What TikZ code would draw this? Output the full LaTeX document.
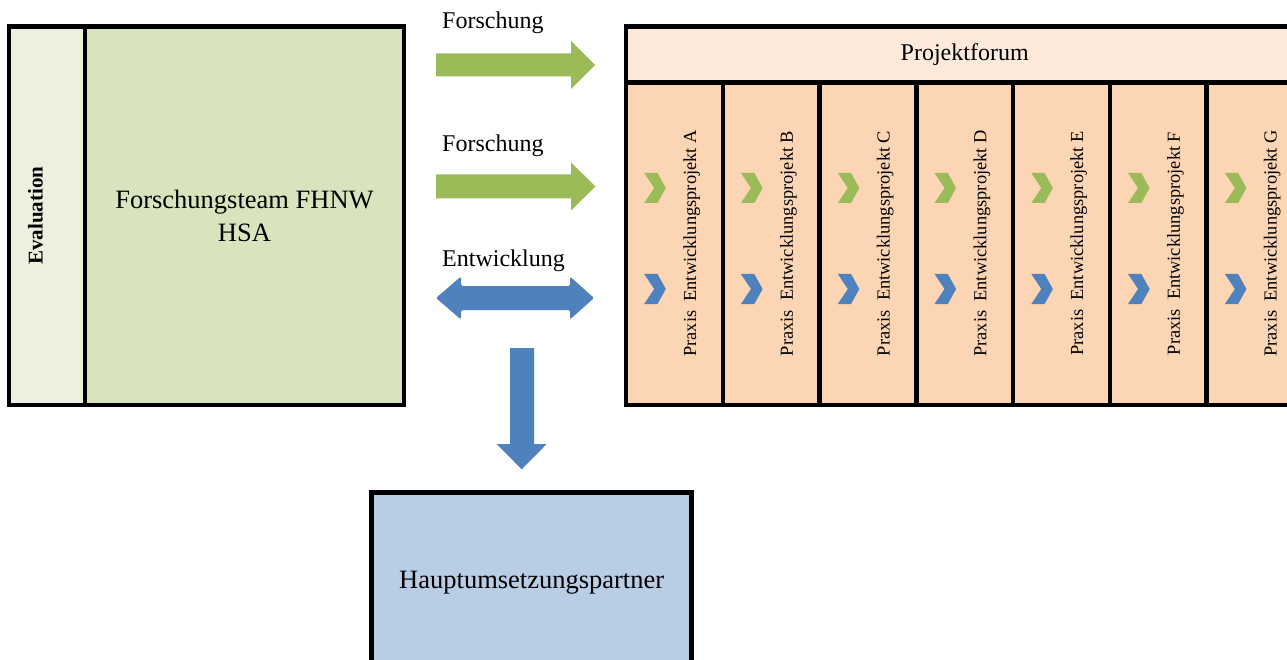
\documentclass[tikz,border=0pt]{standalone}
\usepackage{fontspec}
\setmainfont{Liberation Serif}
\definecolor{evalfill}{HTML}{EBF1DE}
\definecolor{teamfill}{HTML}{D7E4BD}
\definecolor{forumfill}{HTML}{FDEADA}
\definecolor{colfill}{HTML}{FCD5B5}
\definecolor{hauptfill}{HTML}{B9CDE5}
\definecolor{arrgreen}{HTML}{9BBB59}
\definecolor{arrblue}{HTML}{4F81BD}
\begin{document}
\begin{tikzpicture}[x=1pt,y=-1pt,
  box/.style={draw=black,line width=4.5pt,inner sep=0pt,outer sep=0pt},
  colbox/.style={box,fill=colfill,minimum width=96.77pt,minimum height=322.3pt},
  lbl/.style={inner sep=0pt,anchor=base west,font=\fontsize{24}{28}\selectfont},
  praxis/.style={inner sep=0pt,anchor=base,rotate=90,font=\fontsize{18.4}{22}\selectfont},
  chevron/.style={line width=0pt}]
\useasboundingbox (0,0) rectangle (1287,660);
\clip (0,0) rectangle (1287,660);

% left block
\node[box,fill=evalfill,minimum width=76pt,minimum height=378.3pt] (eval) at (47,215.85) {};
\node[box,fill=teamfill,minimum width=319pt,minimum height=378.3pt,align=center,
      font=\fontsize{26.5}{33}\selectfont] (team) at (244.5,215.85) {Forschungsteam FHNW\\HSA};
\node[inner sep=0pt,anchor=base,rotate=90,font=\bfseries\fontsize{21}{25}\selectfont] (evaltext) at (42.7,215.7) {Evaluation};

% project forum
\node[box,fill=forumfill,minimum width=677.4pt,minimum height=56pt,
      font=\fontsize{24}{28}\selectfont] (forum) at (964.7,54.7) {Projektforum};
\foreach \i/\l in {0/A,1/B,2/C,3/D,4/E,5/F,6/G}{
  \pgfmathsetmacro{\lx}{626+\i*96.77}
  \node[colbox] (col\l) at (\lx+48.385,243.85) {};
  \node[praxis] (txt\l) at (\lx+70,243.5) {Praxis~~Entwicklungsprojekt \l};
  \fill[arrgreen] (\lx+18.2,173) -- (\lx+31.5,173) -- (\lx+39.8,188) -- (\lx+31.5,203) -- (\lx+18.2,203) -- (\lx+28.2,188) -- cycle;
  \fill[arrblue] (\lx+18.2,274) -- (\lx+31.5,274) -- (\lx+39.8,289) -- (\lx+31.5,304) -- (\lx+18.2,304) -- (\lx+28.2,289) -- cycle;
}

% labels
\node[lbl] (lab1) at (442,28.3) {Forschung};
\node[lbl] (lab2) at (442,151.7) {Forschung};
\node[lbl] (lab3) at (442,266) {Entwicklung};

% block arrows
\fill[arrgreen] (436,53.5) -- (571,53.5) -- (571,41) -- (595,65) -- (571,89) -- (571,76.5) -- (436,76.5) -- cycle;
\fill[arrgreen] (436,174.5) -- (571,174.5) -- (571,162.5) -- (595.5,186.5) -- (571,210.5) -- (571,198.5) -- (436,198.5) -- cycle;
\fill[arrblue,rounded corners=1.5pt] (436,298) -- (461,276.5) -- (461,286) -- (570,286) -- (570,276.5) -- (594,298) -- (570,319.5) -- (570,310) -- (461,310) -- (461,319.5) -- cycle;
\fill[arrblue] (510,348) -- (534,348) -- (534,444) -- (546.7,444) -- (521.7,469.3) -- (496.7,444) -- (510,444) -- cycle;

% main partner
\node[box,fill=hauptfill,minimum width=320pt,minimum height=180pt,
      font=\fontsize{26.5}{33}\selectfont] (haupt) at (531.7,582.7) {Hauptumsetzungspartner};
\end{tikzpicture}
\end{document}
